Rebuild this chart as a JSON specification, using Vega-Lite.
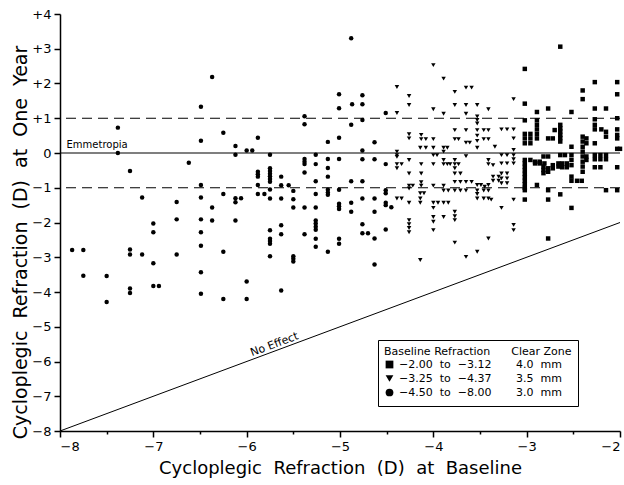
{
  "$schema": "https://vega.github.io/schema/vega-lite/v6.json",
  "width": 560,
  "height": 417,
  "autosize": "none",
  "padding": {"left": 60, "top": 14, "right": 4, "bottom": 54},
  "background": "white",
  "config": {
    "font": "DejaVu Sans",
    "view": {"stroke": null},
    "axis": {
      "grid": false,
      "domainColor": "black",
      "domainWidth": 1.5,
      "tickColor": "black",
      "tickWidth": 1.5,
      "tickSize": 6,
      "labelColor": "black",
      "labelFontSize": 13,
      "labelOverlap": false,
      "titleColor": "black",
      "titleFontWeight": "normal"
    }
  },
  "layer": [
    {
      "data": {
        "values": [
          {"x": -6.49, "y": 1.33, "g": "C"}, {"x": -7.38, "y": 0.73, "g": "C"}, {"x": -6.49, "y": 0.35, "g": "C"}, {"x": -7.38, "y": 0.0, "g": "C"},
          {"x": -6.62, "y": -0.28, "g": "C"}, {"x": -7.25, "y": -0.52, "g": "C"}, {"x": -6.49, "y": -0.92, "g": "C"}, {"x": -7.12, "y": -1.28, "g": "C"},
          {"x": -6.75, "y": -1.41, "g": "C"}, {"x": -6.49, "y": -1.28, "g": "C"}, {"x": -7.0, "y": -2.03, "g": "C"}, {"x": -6.75, "y": -1.91, "g": "C"},
          {"x": -6.49, "y": -1.91, "g": "C"}, {"x": -7.0, "y": -2.28, "g": "C"}, {"x": -6.49, "y": -2.28, "g": "C"}, {"x": -7.87, "y": -2.79, "g": "C"},
          {"x": -7.75, "y": -2.79, "g": "C"}, {"x": -7.25, "y": -2.78, "g": "C"}, {"x": -7.25, "y": -2.92, "g": "C"}, {"x": -7.12, "y": -2.92, "g": "C"},
          {"x": -6.75, "y": -2.92, "g": "C"}, {"x": -6.49, "y": -2.67, "g": "C"}, {"x": -7.0, "y": -3.17, "g": "C"}, {"x": -7.75, "y": -3.53, "g": "C"},
          {"x": -7.5, "y": -3.54, "g": "C"}, {"x": -6.49, "y": -3.43, "g": "C"}, {"x": -7.25, "y": -3.9, "g": "C"}, {"x": -7.25, "y": -4.03, "g": "C"},
          {"x": -7.0, "y": -3.83, "g": "C"}, {"x": -6.94, "y": -3.83, "g": "C"}, {"x": -6.49, "y": -4.05, "g": "C"}, {"x": -7.5, "y": -4.29, "g": "C"},
          {"x": -6.37, "y": 2.19, "g": "C"}, {"x": -5.01, "y": 1.69, "g": "C"}, {"x": -5.01, "y": 1.29, "g": "C"}, {"x": -5.38, "y": 1.06, "g": "C"},
          {"x": -5.38, "y": 0.83, "g": "C"}, {"x": -6.25, "y": 0.58, "g": "C"}, {"x": -5.88, "y": 0.44, "g": "C"}, {"x": -6.12, "y": 0.2, "g": "C"},
          {"x": -6.12, "y": -0.05, "g": "C"}, {"x": -6.0, "y": 0.07, "g": "C"}, {"x": -5.94, "y": 0.07, "g": "C"}, {"x": -5.13, "y": 0.32, "g": "C"},
          {"x": -5.01, "y": 0.44, "g": "C"}, {"x": -5.75, "y": -0.05, "g": "C"}, {"x": -5.26, "y": -0.05, "g": "C"}, {"x": -5.38, "y": -0.17, "g": "C"},
          {"x": -5.38, "y": -0.25, "g": "C"}, {"x": -5.38, "y": -0.32, "g": "C"}, {"x": -5.13, "y": -0.17, "g": "C"}, {"x": -5.01, "y": -0.17, "g": "C"},
          {"x": -5.26, "y": -0.32, "g": "C"}, {"x": -5.13, "y": -0.43, "g": "C"}, {"x": -5.88, "y": -0.54, "g": "C"}, {"x": -5.88, "y": -0.61, "g": "C"},
          {"x": -5.88, "y": -0.68, "g": "C"}, {"x": -5.75, "y": -0.44, "g": "C"}, {"x": -5.75, "y": -0.52, "g": "C"}, {"x": -5.75, "y": -0.6, "g": "C"},
          {"x": -5.75, "y": -0.67, "g": "C"}, {"x": -5.75, "y": -0.75, "g": "C"}, {"x": -5.75, "y": -0.83, "g": "C"}, {"x": -5.63, "y": -0.68, "g": "C"},
          {"x": -5.38, "y": -0.56, "g": "C"}, {"x": -5.26, "y": -0.81, "g": "C"}, {"x": -5.13, "y": -0.68, "g": "C"}, {"x": -5.88, "y": -0.92, "g": "C"},
          {"x": -5.63, "y": -0.93, "g": "C"}, {"x": -5.55, "y": -0.93, "g": "C"}, {"x": -5.13, "y": -1.06, "g": "C"}, {"x": -5.13, "y": -1.14, "g": "C"},
          {"x": -5.13, "y": -1.2, "g": "C"}, {"x": -5.01, "y": -1.06, "g": "C"}, {"x": -6.25, "y": -1.18, "g": "C"}, {"x": -5.88, "y": -1.18, "g": "C"},
          {"x": -5.81, "y": -1.18, "g": "C"}, {"x": -5.75, "y": -1.05, "g": "C"}, {"x": -5.75, "y": -1.31, "g": "C"}, {"x": -5.63, "y": -1.31, "g": "C"},
          {"x": -5.5, "y": -1.09, "g": "C"}, {"x": -5.5, "y": -1.33, "g": "C"}, {"x": -5.26, "y": -1.18, "g": "C"}, {"x": -6.12, "y": -1.3, "g": "C"},
          {"x": -6.12, "y": -1.42, "g": "C"}, {"x": -6.06, "y": -1.3, "g": "C"}, {"x": -6.37, "y": -1.57, "g": "C"}, {"x": -5.5, "y": -1.57, "g": "C"},
          {"x": -5.38, "y": -1.57, "g": "C"}, {"x": -5.26, "y": -1.57, "g": "C"}, {"x": -5.01, "y": -1.46, "g": "C"}, {"x": -5.01, "y": -1.53, "g": "C"},
          {"x": -5.01, "y": -1.61, "g": "C"}, {"x": -6.37, "y": -1.94, "g": "C"}, {"x": -6.12, "y": -1.94, "g": "C"}, {"x": -5.26, "y": -1.94, "g": "C"},
          {"x": -5.26, "y": -2.03, "g": "C"}, {"x": -5.26, "y": -2.12, "g": "C"}, {"x": -5.26, "y": -2.21, "g": "C"}, {"x": -5.63, "y": -2.08, "g": "C"},
          {"x": -5.63, "y": -2.34, "g": "C"}, {"x": -5.38, "y": -2.34, "g": "C"}, {"x": -5.75, "y": -2.22, "g": "C"}, {"x": -5.75, "y": -2.47, "g": "C"},
          {"x": -5.75, "y": -2.53, "g": "C"}, {"x": -5.75, "y": -2.61, "g": "C"}, {"x": -5.26, "y": -2.47, "g": "C"}, {"x": -5.26, "y": -2.7, "g": "C"},
          {"x": -5.01, "y": -2.47, "g": "C"}, {"x": -5.01, "y": -2.61, "g": "C"}, {"x": -6.25, "y": -2.84, "g": "C"}, {"x": -5.13, "y": -2.84, "g": "C"},
          {"x": -5.75, "y": -2.97, "g": "C"}, {"x": -5.5, "y": -2.97, "g": "C"}, {"x": -5.5, "y": -3.04, "g": "C"}, {"x": -5.5, "y": -3.12, "g": "C"},
          {"x": -6.0, "y": -3.7, "g": "C"}, {"x": -5.63, "y": -3.96, "g": "C"}, {"x": -6.25, "y": -4.2, "g": "C"}, {"x": -6.0, "y": -4.2, "g": "C"},
          {"x": -4.88, "y": 3.3, "g": "C"}, {"x": -4.87, "y": 1.4, "g": "C"}, {"x": -4.76, "y": 1.66, "g": "C"}, {"x": -4.76, "y": 1.4, "g": "C"},
          {"x": -4.51, "y": 1.15, "g": "C"}, {"x": -4.76, "y": 0.95, "g": "C"}, {"x": -4.88, "y": 0.81, "g": "C"}, {"x": -4.63, "y": 0.31, "g": "C"},
          {"x": -4.76, "y": 0.07, "g": "C"}, {"x": -4.76, "y": -0.18, "g": "C"}, {"x": -4.63, "y": -0.18, "g": "C"}, {"x": -4.51, "y": -0.32, "g": "C"},
          {"x": -4.88, "y": -0.81, "g": "C"}, {"x": -4.76, "y": -0.81, "g": "C"}, {"x": -4.88, "y": -1.43, "g": "C"}, {"x": -4.88, "y": -1.69, "g": "C"},
          {"x": -4.76, "y": -1.31, "g": "C"}, {"x": -4.63, "y": -1.31, "g": "C"}, {"x": -4.63, "y": -1.69, "g": "C"}, {"x": -4.51, "y": -1.07, "g": "C"},
          {"x": -4.51, "y": -1.16, "g": "C"}, {"x": -4.51, "y": -1.43, "g": "C"}, {"x": -4.51, "y": -1.5, "g": "C"}, {"x": -4.45, "y": -1.56, "g": "C"},
          {"x": -4.76, "y": -2.05, "g": "C"}, {"x": -4.76, "y": -2.31, "g": "C"}, {"x": -4.7, "y": -2.31, "g": "C"}, {"x": -4.63, "y": -2.46, "g": "C"},
          {"x": -4.51, "y": -2.2, "g": "C"}, {"x": -4.63, "y": -3.21, "g": "C"},

          {"x": -4.0, "y": 2.53, "g": "T"}, {"x": -3.89, "y": 2.14, "g": "T"}, {"x": -4.39, "y": 1.9, "g": "T"}, {"x": -3.77, "y": 1.76, "g": "T"},
          {"x": -3.65, "y": 1.88, "g": "T"}, {"x": -3.59, "y": 1.88, "g": "T"}, {"x": -4.26, "y": 1.64, "g": "T"}, {"x": -4.26, "y": 1.38, "g": "T"},
          {"x": -4.39, "y": 1.15, "g": "T"}, {"x": -4.0, "y": 1.26, "g": "T"}, {"x": -3.89, "y": 1.13, "g": "T"}, {"x": -3.77, "y": 1.38, "g": "T"},
          {"x": -3.65, "y": 1.38, "g": "T"}, {"x": -3.53, "y": 1.38, "g": "T"}, {"x": -3.65, "y": 1.13, "g": "T"}, {"x": -3.53, "y": 1.05, "g": "T"},
          {"x": -3.53, "y": 0.95, "g": "T"}, {"x": -3.53, "y": 0.85, "g": "T"}, {"x": -3.41, "y": 1.26, "g": "T"}, {"x": -4.26, "y": 0.54, "g": "T"},
          {"x": -4.26, "y": 0.42, "g": "T"}, {"x": -4.13, "y": 0.52, "g": "T"}, {"x": -4.13, "y": 0.4, "g": "T"}, {"x": -4.08, "y": 0.4, "g": "T"},
          {"x": -4.0, "y": 0.4, "g": "T"}, {"x": -3.77, "y": 0.66, "g": "T"}, {"x": -3.65, "y": 0.66, "g": "T"}, {"x": -3.77, "y": 0.4, "g": "T"},
          {"x": -3.73, "y": 0.4, "g": "T"}, {"x": -3.65, "y": 0.3, "g": "T"}, {"x": -3.61, "y": 0.3, "g": "T"}, {"x": -3.53, "y": 0.66, "g": "T"},
          {"x": -3.53, "y": 0.5, "g": "T"}, {"x": -3.53, "y": 0.35, "g": "T"}, {"x": -3.53, "y": 0.15, "g": "T"}, {"x": -3.46, "y": 0.66, "g": "T"},
          {"x": -3.41, "y": 0.66, "g": "T"}, {"x": -3.46, "y": 0.4, "g": "T"}, {"x": -3.41, "y": 0.4, "g": "T"}, {"x": -4.14, "y": 0.15, "g": "T"},
          {"x": -4.08, "y": 0.15, "g": "T"}, {"x": -4.0, "y": 0.15, "g": "T"}, {"x": -3.89, "y": 0.15, "g": "T"}, {"x": -3.85, "y": 0.15, "g": "T"},
          {"x": -3.89, "y": 0.04, "g": "T"}, {"x": -4.39, "y": 0.04, "g": "T"}, {"x": -4.39, "y": -0.06, "g": "T"}, {"x": -4.39, "y": -0.11, "g": "T"},
          {"x": -4.0, "y": -0.06, "g": "T"}, {"x": -3.96, "y": -0.06, "g": "T"}, {"x": -3.65, "y": -0.09, "g": "T"}, {"x": -4.39, "y": -0.32, "g": "T"},
          {"x": -4.39, "y": -0.44, "g": "T"}, {"x": -4.34, "y": -0.32, "g": "T"}, {"x": -4.26, "y": -0.2, "g": "T"}, {"x": -4.13, "y": -0.32, "g": "T"},
          {"x": -4.0, "y": -0.32, "g": "T"}, {"x": -3.89, "y": -0.2, "g": "T"}, {"x": -3.89, "y": -0.32, "g": "T"}, {"x": -3.85, "y": -0.32, "g": "T"},
          {"x": -3.82, "y": -0.32, "g": "T"}, {"x": -3.77, "y": -0.2, "g": "T"}, {"x": -3.77, "y": -0.32, "g": "T"}, {"x": -3.77, "y": -0.44, "g": "T"},
          {"x": -3.73, "y": -0.32, "g": "T"}, {"x": -3.41, "y": -0.2, "g": "T"}, {"x": -3.41, "y": -0.32, "g": "T"}, {"x": -4.26, "y": -0.59, "g": "T"},
          {"x": -4.13, "y": -0.59, "g": "T"}, {"x": -3.77, "y": -0.59, "g": "T"}, {"x": -3.71, "y": -0.59, "g": "T"}, {"x": -4.13, "y": -0.84, "g": "T"},
          {"x": -3.77, "y": -0.83, "g": "T"}, {"x": -3.71, "y": -0.83, "g": "T"}, {"x": -3.65, "y": -0.83, "g": "T"}, {"x": -3.59, "y": -0.83, "g": "T"},
          {"x": -3.53, "y": -0.92, "g": "T"}, {"x": -3.49, "y": -0.92, "g": "T"}, {"x": -3.41, "y": -0.92, "g": "T"}, {"x": -4.26, "y": -0.94, "g": "T"},
          {"x": -4.26, "y": -1.02, "g": "T"}, {"x": -4.22, "y": -0.94, "g": "T"}, {"x": -4.13, "y": -0.94, "g": "T"}, {"x": -4.0, "y": -0.94, "g": "T"},
          {"x": -3.89, "y": -0.94, "g": "T"}, {"x": -3.89, "y": -1.08, "g": "T"}, {"x": -3.84, "y": -1.08, "g": "T"}, {"x": -3.77, "y": -1.08, "g": "T"},
          {"x": -3.71, "y": -1.08, "g": "T"}, {"x": -3.65, "y": -1.08, "g": "T"}, {"x": -3.53, "y": -1.08, "g": "T"}, {"x": -3.53, "y": -1.18, "g": "T"},
          {"x": -3.46, "y": -1.08, "g": "T"}, {"x": -3.41, "y": -1.08, "g": "T"}, {"x": -3.53, "y": -1.31, "g": "T"}, {"x": -3.46, "y": -1.31, "g": "T"},
          {"x": -3.41, "y": -1.31, "g": "T"}, {"x": -4.39, "y": -1.31, "g": "T"}, {"x": -4.34, "y": -1.31, "g": "T"}, {"x": -4.26, "y": -1.43, "g": "T"},
          {"x": -4.14, "y": -1.16, "g": "T"}, {"x": -4.14, "y": -1.31, "g": "T"}, {"x": -4.14, "y": -1.43, "g": "T"}, {"x": -4.1, "y": -1.16, "g": "T"},
          {"x": -4.0, "y": -1.43, "g": "T"}, {"x": -3.95, "y": -1.43, "g": "T"}, {"x": -3.89, "y": -1.43, "g": "T"}, {"x": -3.84, "y": -1.43, "g": "T"},
          {"x": -4.0, "y": -1.58, "g": "T"}, {"x": -4.0, "y": -1.84, "g": "T"}, {"x": -4.0, "y": -1.98, "g": "T"}, {"x": -4.0, "y": -2.22, "g": "T"},
          {"x": -3.89, "y": -1.84, "g": "T"}, {"x": -3.77, "y": -1.69, "g": "T"}, {"x": -3.77, "y": -1.82, "g": "T"}, {"x": -3.77, "y": -1.93, "g": "T"},
          {"x": -4.26, "y": -1.93, "g": "T"}, {"x": -4.26, "y": -2.05, "g": "T"}, {"x": -4.26, "y": -2.16, "g": "T"}, {"x": -4.26, "y": -2.28, "g": "T"},
          {"x": -3.77, "y": -2.58, "g": "T"}, {"x": -3.41, "y": -2.46, "g": "T"}, {"x": -3.53, "y": -2.84, "g": "T"}, {"x": -3.65, "y": -2.99, "g": "T"},
          {"x": -4.14, "y": -3.08, "g": "T"},
          {"x": -3.14, "y": 1.55, "g": "T"}, {"x": -3.27, "y": 0.68, "g": "T"}, {"x": -3.21, "y": 0.68, "g": "T"}, {"x": -3.14, "y": 0.68, "g": "T"},
          {"x": -3.14, "y": 0.42, "g": "T"}, {"x": -3.34, "y": 0.18, "g": "T"}, {"x": -3.14, "y": 0.09, "g": "T"}, {"x": -3.14, "y": -0.06, "g": "T"},
          {"x": -3.14, "y": -0.18, "g": "T"}, {"x": -3.27, "y": -0.06, "g": "T"}, {"x": -3.21, "y": -0.06, "g": "T"}, {"x": -3.27, "y": -0.3, "g": "T"},
          {"x": -3.21, "y": -0.3, "g": "T"}, {"x": -3.14, "y": -0.3, "g": "T"}, {"x": -3.36, "y": -0.35, "g": "T"}, {"x": -3.36, "y": -0.68, "g": "T"},
          {"x": -3.36, "y": -0.8, "g": "T"}, {"x": -3.3, "y": -0.68, "g": "T"}, {"x": -3.3, "y": -0.8, "g": "T"}, {"x": -3.27, "y": -0.59, "g": "T"},
          {"x": -3.27, "y": -0.73, "g": "T"}, {"x": -3.27, "y": -0.87, "g": "T"}, {"x": -3.21, "y": -0.59, "g": "T"}, {"x": -3.21, "y": -0.73, "g": "T"},
          {"x": -3.21, "y": -0.87, "g": "T"}, {"x": -3.45, "y": -0.97, "g": "T"}, {"x": -3.38, "y": -1.34, "g": "T"}, {"x": -3.14, "y": -1.34, "g": "T"},
          {"x": -3.27, "y": -1.58, "g": "T"}, {"x": -3.14, "y": -2.07, "g": "T"}, {"x": -3.14, "y": -2.22, "g": "T"},

          {"x": -2.64, "y": 3.06, "g": "S"}, {"x": -3.02, "y": 2.42, "g": "S"}, {"x": -2.27, "y": 2.04, "g": "S"}, {"x": -2.03, "y": 2.04, "g": "S"},
          {"x": -2.03, "y": 1.69, "g": "S"}, {"x": -2.4, "y": 1.8, "g": "S"}, {"x": -2.4, "y": 1.55, "g": "S"}, {"x": -3.02, "y": 1.42, "g": "S"},
          {"x": -2.89, "y": 1.18, "g": "S"}, {"x": -2.77, "y": 1.28, "g": "S"}, {"x": -2.52, "y": 1.18, "g": "S"}, {"x": -2.27, "y": 1.28, "g": "S"},
          {"x": -2.15, "y": 1.28, "g": "S"}, {"x": -3.02, "y": 0.94, "g": "S"}, {"x": -2.89, "y": 0.94, "g": "S"}, {"x": -2.27, "y": 0.97, "g": "S"},
          {"x": -2.03, "y": 1.0, "g": "S"},
          {"x": -2.64, "y": 0.81, "g": "S"}, {"x": -2.64, "y": 0.71, "g": "S"}, {"x": -2.64, "y": 0.62, "g": "S"}, {"x": -2.64, "y": 0.52, "g": "S"},
          {"x": -2.64, "y": 0.43, "g": "S"}, {"x": -2.64, "y": 0.33, "g": "S"},
          {"x": -2.89, "y": 0.81, "g": "S"}, {"x": -2.89, "y": 0.68, "g": "S"}, {"x": -2.89, "y": 0.55, "g": "S"}, {"x": -2.89, "y": 0.42, "g": "S"},
          {"x": -3.02, "y": 0.55, "g": "S"}, {"x": -2.96, "y": 0.55, "g": "S"}, {"x": -3.02, "y": 0.42, "g": "S"}, {"x": -2.96, "y": 0.42, "g": "S"},
          {"x": -3.02, "y": 0.28, "g": "S"}, {"x": -2.96, "y": 0.28, "g": "S"},
          {"x": -3.02, "y": -0.2, "g": "S"}, {"x": -3.02, "y": -0.3, "g": "S"}, {"x": -3.02, "y": -0.4, "g": "S"}, {"x": -3.02, "y": -0.5, "g": "S"},
          {"x": -3.02, "y": -0.6, "g": "S"}, {"x": -3.02, "y": -0.7, "g": "S"}, {"x": -3.02, "y": -0.8, "g": "S"}, {"x": -3.02, "y": -0.9, "g": "S"},
          {"x": -3.02, "y": -1.0, "g": "S"}, {"x": -3.02, "y": -1.07, "g": "S"},
          {"x": -2.27, "y": 0.81, "g": "S"}, {"x": -2.27, "y": 0.68, "g": "S"}, {"x": -2.2, "y": 0.68, "g": "S"}, {"x": -2.15, "y": 0.61, "g": "S"},
          {"x": -2.15, "y": 0.47, "g": "S"}, {"x": -2.03, "y": 0.68, "g": "S"}, {"x": -2.03, "y": 0.52, "g": "S"}, {"x": -2.03, "y": 0.42, "g": "S"},
          {"x": -2.77, "y": 0.42, "g": "S"}, {"x": -2.72, "y": 0.42, "g": "S"}, {"x": -2.7, "y": 0.66, "g": "S"}, {"x": -2.52, "y": 0.18, "g": "S"},
          {"x": -2.4, "y": 0.47, "g": "S"}, {"x": -2.4, "y": 0.33, "g": "S"}, {"x": -2.4, "y": 0.18, "g": "S"}, {"x": -2.4, "y": 0.04, "g": "S"},
          {"x": -2.4, "y": -0.1, "g": "S"}, {"x": -2.4, "y": -0.25, "g": "S"},
          {"x": -2.36, "y": 0.42, "g": "S"}, {"x": -2.36, "y": 0.28, "g": "S"}, {"x": -2.27, "y": 0.28, "g": "S"},
          {"x": -2.96, "y": -0.2, "g": "S"}, {"x": -2.91, "y": -0.25, "g": "S"}, {"x": -2.86, "y": -0.25, "g": "S"}, {"x": -2.91, "y": -0.3, "g": "S"},
          {"x": -2.86, "y": -0.3, "g": "S"}, {"x": -2.81, "y": -0.3, "g": "S"}, {"x": -2.82, "y": -0.1, "g": "S"}, {"x": -2.77, "y": -0.1, "g": "S"},
          {"x": -2.82, "y": -0.39, "g": "S"}, {"x": -2.82, "y": -0.49, "g": "S"}, {"x": -2.82, "y": -0.58, "g": "S"}, {"x": -2.77, "y": -0.44, "g": "S"},
          {"x": -2.77, "y": -0.54, "g": "S"}, {"x": -2.72, "y": -0.35, "g": "S"}, {"x": -2.72, "y": -0.44, "g": "S"}, {"x": -2.66, "y": -0.3, "g": "S"},
          {"x": -2.66, "y": -0.39, "g": "S"}, {"x": -2.62, "y": -0.3, "g": "S"}, {"x": -2.62, "y": -0.41, "g": "S"}, {"x": -2.57, "y": -0.3, "g": "S"},
          {"x": -2.57, "y": -0.41, "g": "S"},
          {"x": -2.64, "y": -0.06, "g": "S"}, {"x": -2.59, "y": -0.06, "g": "S"}, {"x": -2.52, "y": -0.06, "g": "S"}, {"x": -2.52, "y": -0.2, "g": "S"},
          {"x": -2.52, "y": -0.35, "g": "S"}, {"x": -2.52, "y": -0.68, "g": "S"}, {"x": -2.52, "y": -0.8, "g": "S"}, {"x": -2.46, "y": -0.8, "g": "S"},
          {"x": -2.41, "y": -0.8, "g": "S"}, {"x": -2.4, "y": -0.39, "g": "S"}, {"x": -2.4, "y": -0.54, "g": "S"}, {"x": -2.36, "y": -0.1, "g": "S"},
          {"x": -2.36, "y": -0.2, "g": "S"}, {"x": -2.27, "y": -0.06, "g": "S"}, {"x": -2.27, "y": -0.18, "g": "S"}, {"x": -2.21, "y": -0.06, "g": "S"},
          {"x": -2.21, "y": -0.18, "g": "S"}, {"x": -2.15, "y": -0.06, "g": "S"}, {"x": -2.15, "y": -0.18, "g": "S"}, {"x": -2.27, "y": -0.41, "g": "S"},
          {"x": -2.21, "y": -0.41, "g": "S"}, {"x": -2.03, "y": 0.12, "g": "S"}, {"x": -2.0, "y": 0.12, "g": "S"}, {"x": -2.03, "y": -0.41, "g": "S"},
          {"x": -2.89, "y": -0.92, "g": "S"}, {"x": -2.77, "y": -1.07, "g": "S"}, {"x": -2.64, "y": -1.19, "g": "S"}, {"x": -2.15, "y": -1.07, "g": "S"},
          {"x": -2.03, "y": -1.07, "g": "S"}, {"x": -3.02, "y": -1.34, "g": "S"}, {"x": -2.77, "y": -1.34, "g": "S"}, {"x": -2.52, "y": -1.58, "g": "S"},
          {"x": -2.77, "y": -2.46, "g": "S"}
        ]
      },
      "mark": {"type": "point", "filled": true, "color": "black", "opacity": 1, "size": 20},
      "encoding": {
        "x": {
          "field": "x",
          "type": "quantitative",
          "scale": {"domain": [-8, -2], "nice": false, "zero": false},
          "axis": {
            "tickCount": 12,
            "labelExpr": "datum.value % 1 == 0 ? '−' + abs(datum.value) : ''",
            "tickSize": {"condition": {"test": "datum.value % 1 != 0", "value": 3}, "value": 6},
            "labelPadding": 3,
            "title": "Cycloplegic\u00a0\u00a0Refraction\u00a0\u00a0(D)\u00a0\u00a0at\u00a0\u00a0Baseline",
            "titleFontSize": 18,
            "titlePadding": 6
          }
        },
        "y": {
          "field": "y",
          "type": "quantitative",
          "scale": {"domain": [-8, 4], "nice": false, "zero": false},
          "axis": {
            "tickCount": 12,
            "labelExpr": "datum.value > 0 ? '+' + datum.value : (datum.value < 0 ? '−' + abs(datum.value) : '0')",
            "labelPadding": 3,
            "title": "Cycloplegic\u00a0\u00a0Refraction\u00a0\u00a0(D)\u00a0\u00a0at\u00a0\u00a0One\u00a0\u00a0Year",
            "titleFontSize": 19,
            "titleAngle": 270,
            "titleBaseline": "middle",
            "titleX": -40,
            "titleY": 228
          }
        },
        "shape": {
          "field": "g",
          "type": "nominal",
          "scale": {"domain": ["S", "T", "C"], "range": ["square", "triangle-down", "circle"]},
          "legend": {
            "orient": "none",
            "legendX": 318,
            "legendY": 326,
            "title": "\u00a0\u00a0\u00a0\u00a0Baseline\u00a0Refraction\u00a0\u00a0\u00a0\u00a0\u00a0\u00a0Clear\u00a0Zone",
            "titleFontSize": 11,
            "titleFontWeight": "normal",
            "titleColor": "black",
            "titlePadding": 2,
            "titleLimit": 400,
            "labelFontSize": 11,
            "labelColor": "black",
            "labelLimit": 400,
            "labelExpr": "datum.value == 'S' ? '\u00a0\u00a0\u00a0−2.00\u00a0\u00a0to\u00a0\u00a0−3.12\u00a0\u00a0\u00a0\u00a0\u00a0\u00a0\u00a04.0\u00a0\u00a0mm' : (datum.value == 'T' ? '\u00a0\u00a0\u00a0−3.25\u00a0\u00a0to\u00a0\u00a0−4.37\u00a0\u00a0\u00a0\u00a0\u00a0\u00a0\u00a03.5\u00a0\u00a0mm' : '\u00a0\u00a0\u00a0−4.50\u00a0\u00a0to\u00a0\u00a0−8.00\u00a0\u00a0\u00a0\u00a0\u00a0\u00a0\u00a03.0\u00a0\u00a0mm')",
            "symbolSize": 60,
            "symbolFillColor": "black",
            "symbolStrokeColor": "black",
            "rowPadding": 0,
            "padding": 6,
            "strokeColor": "black",
            "fillColor": "white"
          }
        }
      }
    },
    {
      "data": {"values": [{"ref": 1}, {"ref": -1}]},
      "mark": {"type": "rule", "strokeDash": [10, 6], "strokeWidth": 1, "color": "black"},
      "encoding": {"y": {"field": "ref", "type": "quantitative"}}
    },
    {
      "data": {"values": [{"ref": 0}]},
      "mark": {"type": "rule", "strokeWidth": 1.2, "color": "black"},
      "encoding": {"y": {"field": "ref", "type": "quantitative"}}
    },
    {
      "data": {"values": [{"bx": -8, "by": -8}, {"bx": -2, "by": -2}]},
      "mark": {"type": "line", "strokeWidth": 1, "color": "black"},
      "encoding": {"x": {"field": "bx", "type": "quantitative"}, "y": {"field": "by", "type": "quantitative"}}
    },
    {
      "data": {"values": [{"lx": -7.93, "ly": 0, "label": "Emmetropia"}]},
      "mark": {"type": "text", "align": "left", "baseline": "bottom", "dy": -3, "fontSize": 10, "color": "black"},
      "encoding": {"x": {"field": "lx", "type": "quantitative"}, "y": {"field": "ly", "type": "quantitative"}, "text": {"field": "label"}}
    },
    {
      "data": {"values": [{"lx": -5.68, "ly": -5.68, "label": "No Effect"}]},
      "mark": {"type": "text", "align": "center", "baseline": "bottom", "dy": -1, "angle": 339.5, "fontSize": 11, "color": "black"},
      "encoding": {"x": {"field": "lx", "type": "quantitative"}, "y": {"field": "ly", "type": "quantitative"}, "text": {"field": "label"}}
    }
  ]
}
